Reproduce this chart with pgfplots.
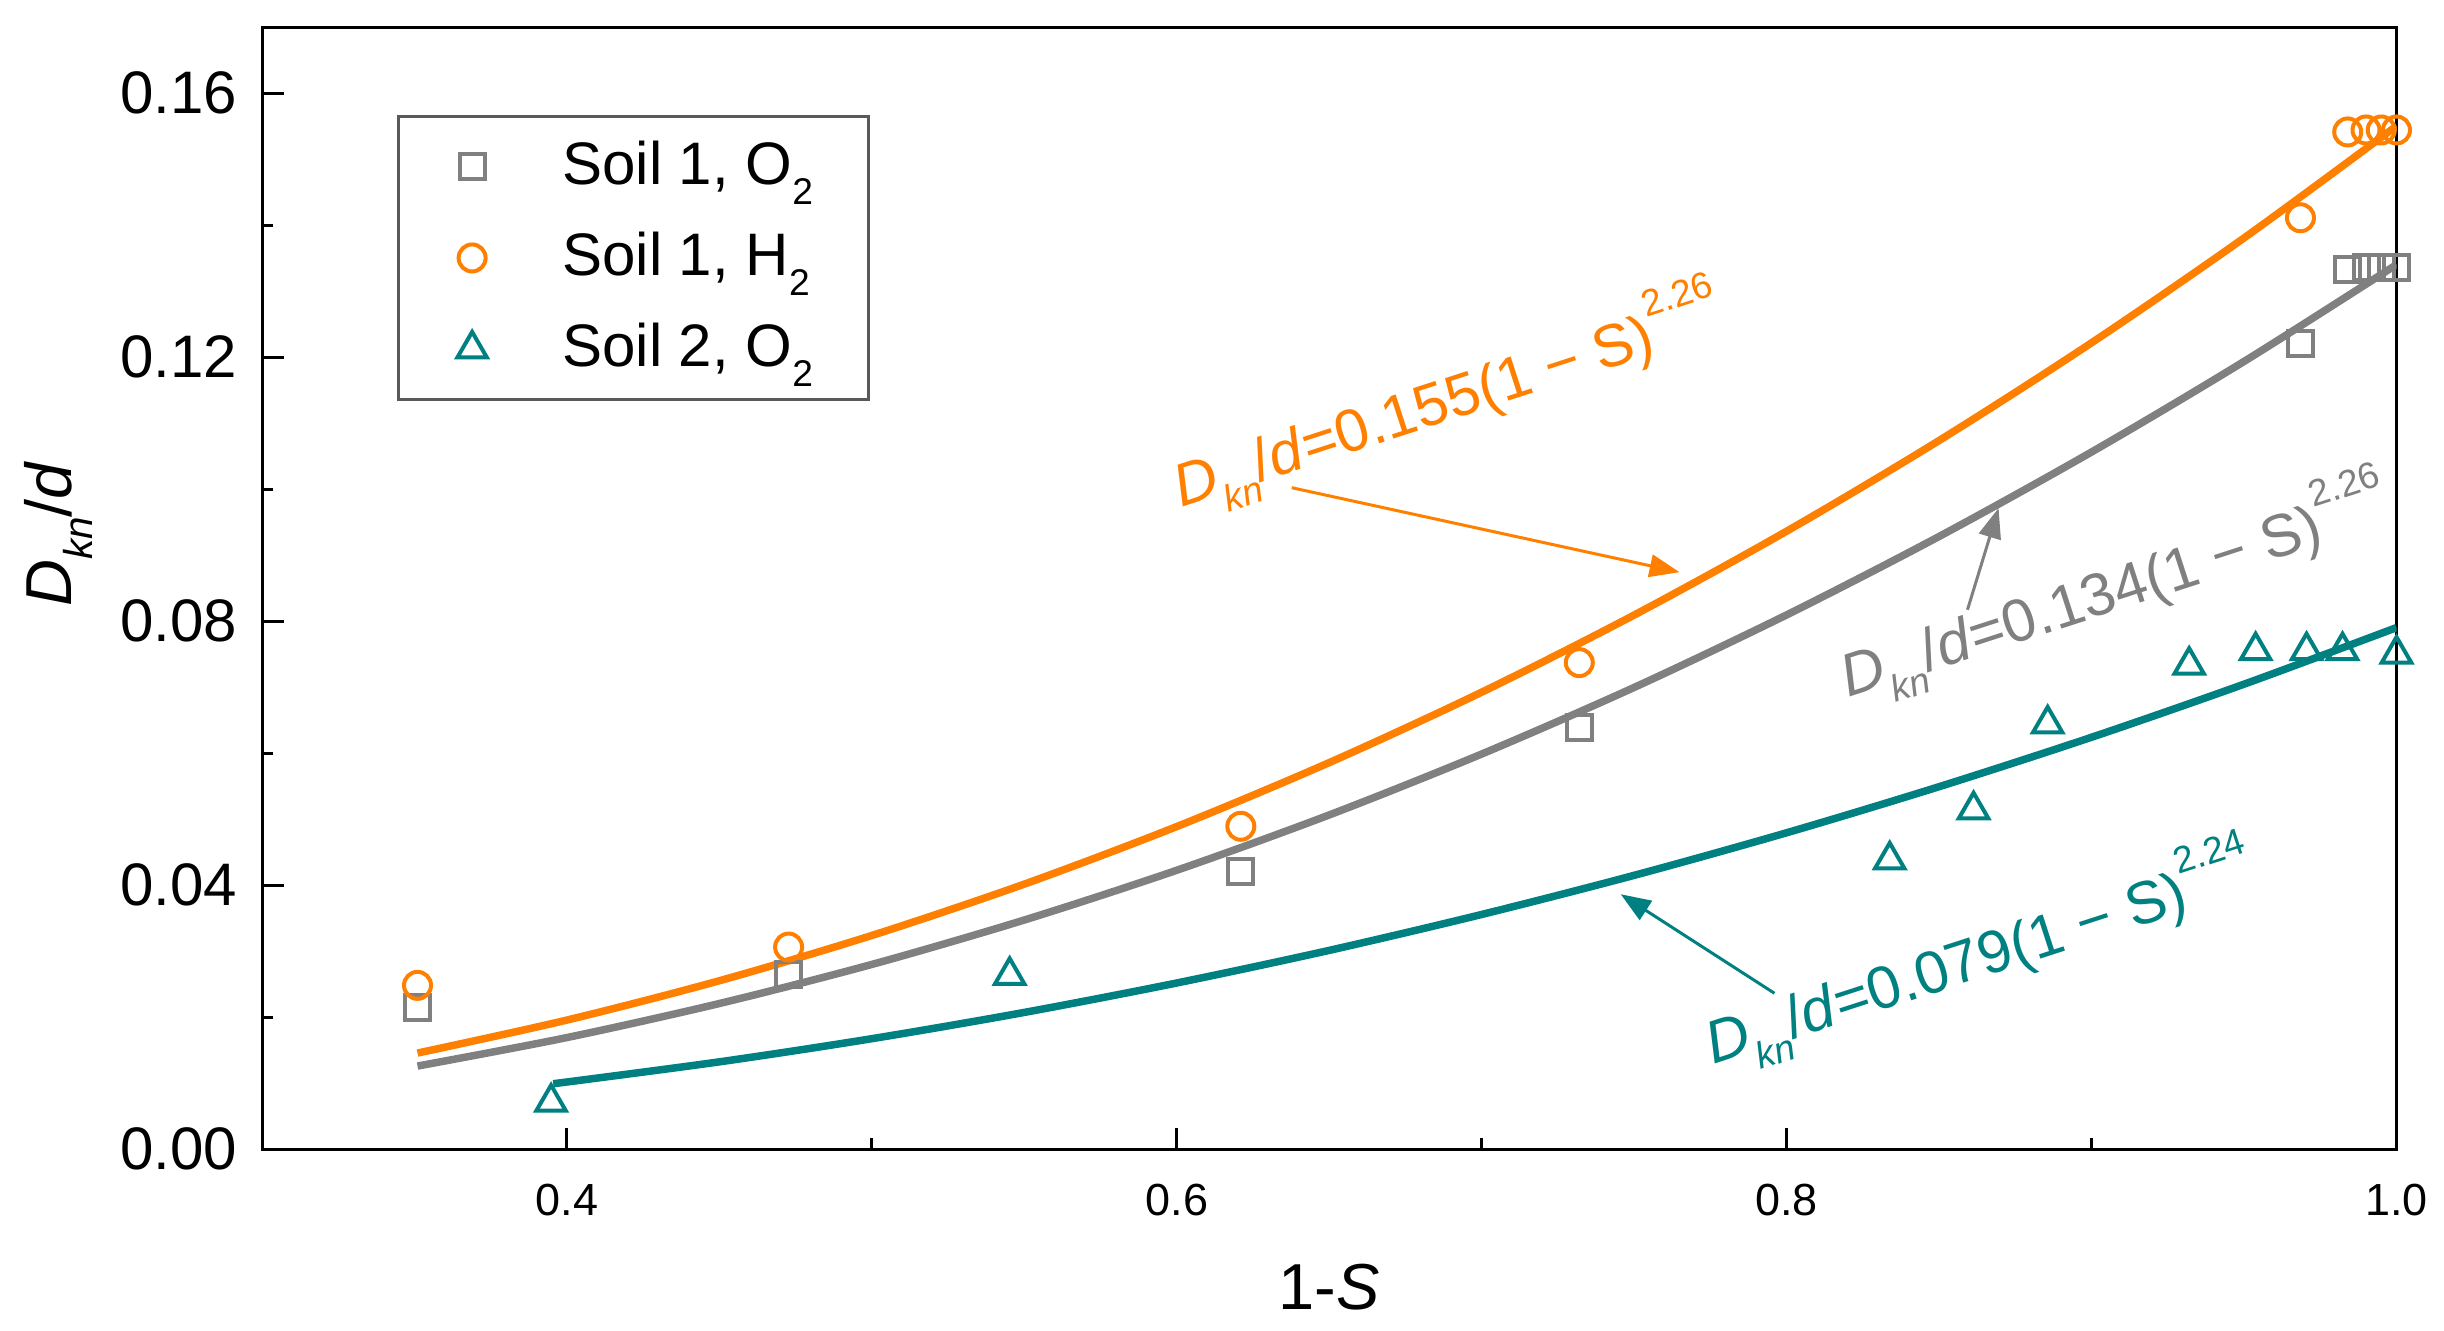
\documentclass[border=0pt]{standalone}
\usepackage{fontspec}
\setmainfont{Liberation Sans}
\usepackage{graphicx}
\usepackage{pgfplots}
\pgfplotsset{compat=1.18}
\usetikzlibrary{arrows.meta}
\definecolor{cOr}{HTML}{FF8000}
\definecolor{cGr}{HTML}{808080}
\definecolor{cTe}{HTML}{008080}
\newcommand{\sbs}[1]{\raisebox{-0.32em}{\scalebox{0.62}{#1}}}
\newcommand{\sps}[1]{\raisebox{0.62em}{\scalebox{0.62}{#1}}}
\newcommand{\Dkn}{\textit{D}\sbs{\textit{kn}}/\textit{d}}
\begin{document}
\begin{tikzpicture}
\path[use as bounding box] (-52.4pt,-36.2pt) rectangle (436.4pt,229.8pt);
\begin{axis}[
  at={(0pt,0pt)}, anchor=south west,
  scale only axis, width=426.9pt, height=224.4pt,
  xmin=0.3, xmax=1.0, ymin=0, ymax=0.17,
  xtick={0.4,0.6,0.8,1.0}, ytick={0,0.04,0.08,0.12,0.16},
  minor x tick num=1, minor y tick num=1,
  tick align=inside, xtick pos=bottom, ytick pos=left,
  major tick length=4.3pt, minor tick length=2.2pt,
  axis line style={line width=0.6pt},
  every tick/.style={line width=0.6pt, black},
  /pgf/number format/assume math mode=true,
  xticklabel style={font=\fontsize{9}{10}\selectfont, yshift=-3.4pt,
    /pgf/number format/fixed, /pgf/number format/fixed zerofill, /pgf/number format/precision=1},
  yticklabel style={font=\fontsize{12}{14}\selectfont, xshift=-1.4pt,
    /pgf/number format/fixed, /pgf/number format/fixed zerofill, /pgf/number format/precision=2},
  xlabel={1-\textit{S}},
  xlabel style={at={(axis description cs:0.5,0)}, anchor=center, yshift=-27.6pt, font=\fontsize{13}{15}\selectfont},
  ylabel={\Dkn},
  ylabel style={at={(axis description cs:-0.0953,0.548)}, anchor=center, font=\fontsize{13}{15}\selectfont},
  legend cell align=left,
  legend style={at={(rel axis cs:0.0632,0.9216)}, anchor=north west, draw=black!65, line width=0.6pt, fill=white,
    font=\fontsize{12}{14}\selectfont, inner xsep=11.8pt, inner ysep=3pt, row sep=4pt, nodes={inner sep=2pt},
    /tikz/every odd column/.style={column sep=13.1pt}},
]
\addplot[only marks, mark=square, cGr, mark size=2.5pt, mark options={line width=0.8pt, solid}] coordinates {
 (0.351,0.0214) (0.4727,0.0264) (0.621,0.0421) (0.732,0.0638) (0.9685,0.1221)
 (0.984,0.1333) (0.990,0.1335) (0.995,0.1335) (1.0,0.1335)};
\addlegendentry{Soil 1, O\sbs{2}\hspace*{-2.8pt}}
\addplot[only marks, mark=o, cOr, mark size=2.7pt, mark options={line width=0.8pt, solid}] coordinates {
 (0.351,0.0248) (0.4727,0.0306) (0.621,0.0489) (0.732,0.0737) (0.9685,0.1411)
 (0.984,0.1541) (0.990,0.1544) (0.995,0.1544) (1.0,0.1544)};
\addlegendentry{Soil 1, H\sbs{2}\hspace*{-2.8pt}}
\addplot[only marks, mark=triangle, cTe, mark size=3.4pt, mark options={line width=0.8pt, solid}] coordinates {
 (0.3948,0.0071) (0.5452,0.0263) (0.8338,0.0438) (0.8613,0.0514) (0.8856,0.0644)
 (0.932,0.0733) (0.9538,0.0755) (0.9705,0.0755) (0.9823,0.0755) (1.0,0.0750)};
\addlegendentry{Soil 2, O\sbs{2}\hspace*{-2.8pt}}
% fitted curves
\addplot[forget plot, cOr, line width=1.5pt, smooth] coordinates {
 (0.351,0.01454) (0.4,0.01954) (0.45,0.02550) (0.5,0.03236) (0.55,0.04014) (0.6,0.04886)
 (0.65,0.05855) (0.7,0.06922) (0.75,0.08091) (0.8,0.09361) (0.85,0.10735) (0.9,0.12216)
 (0.95,0.13804) (1.0,0.155)};
\addplot[forget plot, cGr, line width=1.5pt, smooth] coordinates {
 (0.351,0.01257) (0.4,0.01689) (0.45,0.02205) (0.5,0.02797) (0.55,0.03470) (0.6,0.04224)
 (0.65,0.05062) (0.7,0.05985) (0.75,0.06994) (0.8,0.08093) (0.85,0.09281) (0.9,0.10561)
 (0.95,0.11933) (1.0,0.134)};
\addplot[forget plot, cTe, line width=1.5pt, smooth] coordinates {
 (0.3955,0.00989) (0.45,0.01321) (0.5,0.01672) (0.55,0.02070) (0.6,0.02516) (0.65,0.03010)
 (0.7,0.03554) (0.75,0.04147) (0.8,0.04792) (0.85,0.05490) (0.9,0.06239) (0.95,0.07043)
 (1.0,0.079)};
% annotations
\node[cOr, rotate=18, anchor=base west, inner sep=0pt, font=\fontsize{12}{14}\selectfont]
  at (axis cs:0.6012,0.0971) {\Dkn=0.155(1 − S)\sps{2.26}};
\node[cGr, rotate=18, anchor=base west, inner sep=0pt, font=\fontsize{12}{14}\selectfont]
  at (axis cs:0.82,0.0683) {\Dkn=0.134(1 − S)\sps{2.26}};
\node[cTe, rotate=18, anchor=base west, inner sep=0pt, font=\fontsize{12}{14}\selectfont]
  at (axis cs:0.7757,0.0127) {\Dkn=0.079(1 − S)\sps{2.24}};
\draw[cOr, line width=0.6pt, -{Triangle[length=6pt,width=4.5pt]}] (axis cs:0.6377,0.1002) -- (axis cs:0.7649,0.0874);
\draw[cGr, line width=0.6pt, -{Triangle[length=6pt,width=4.5pt]}] (axis cs:0.8593,0.0817) -- (axis cs:0.8695,0.0971);
\draw[cTe, line width=0.6pt, -{Triangle[length=6pt,width=4.5pt]}] (axis cs:0.796,0.0236) -- (axis cs:0.7456,0.0386);
\end{axis}
\end{tikzpicture}
\end{document}
